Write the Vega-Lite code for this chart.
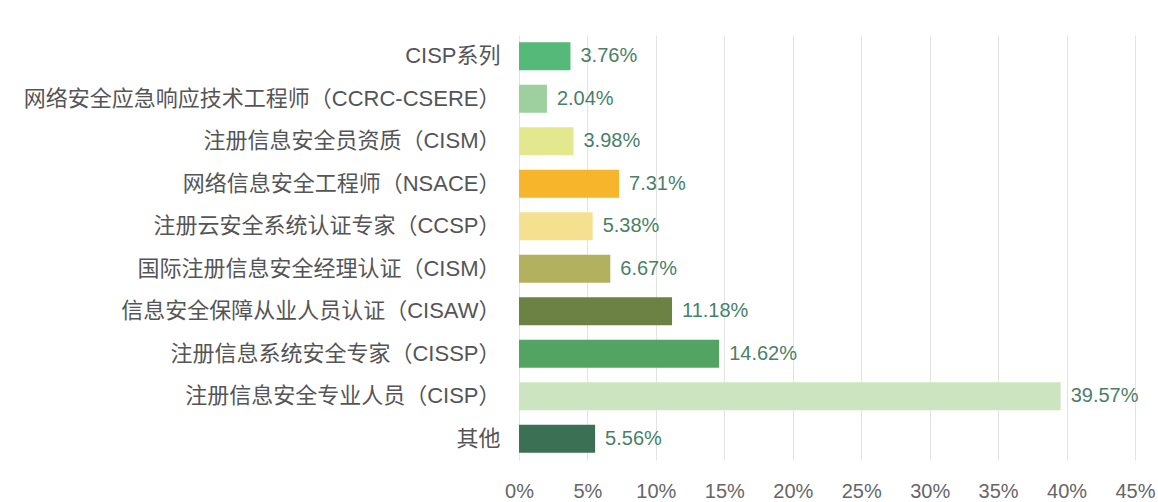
{
  "$schema": "https://vega.github.io/schema/vega-lite/v6.json",
  "width": 616,
  "height": 425,
  "autosize": {"type": "none"},
  "padding": {"left": 519, "top": 35, "right": 23, "bottom": 42},
  "background": "white",
  "config": {
    "font": "Liberation Sans, Noto Sans CJK SC",
    "view": {"stroke": null}
  },
  "data": {
    "values": [
      {"name": "CISP系列", "value": 0.0376},
      {"name": "网络安全应急响应技术工程师（CCRC-CSERE）", "value": 0.0204},
      {"name": "注册信息安全员资质（CISM）", "value": 0.0398},
      {"name": "网络信息安全工程师（NSACE）", "value": 0.0731},
      {"name": "注册云安全系统认证专家（CCSP）", "value": 0.0538},
      {"name": "国际注册信息安全经理认证（CISM）", "value": 0.0667},
      {"name": "信息安全保障从业人员认证（CISAW）", "value": 0.1118},
      {"name": "注册信息系统安全专家（CISSP）", "value": 0.1462},
      {"name": "注册信息安全专业人员（CISP）", "value": 0.3957},
      {"name": "其他", "value": 0.0556}
    ]
  },
  "encoding": {
    "y": {
      "field": "name",
      "type": "nominal",
      "sort": null,
      "scale": {"paddingInner": 0.34, "paddingOuter": 0.17},
      "axis": {
        "title": null,
        "ticks": false,
        "domain": false,
        "labelFontSize": 22,
        "labelColor": "#555555",
        "labelPadding": 19,
        "labelLimit": 600
      }
    },
    "x": {
      "field": "value",
      "type": "quantitative",
      "scale": {"domain": [0, 0.45], "nice": false},
      "axis": {
        "title": null,
        "values": [0, 0.05, 0.1, 0.15, 0.2, 0.25, 0.3, 0.35, 0.4, 0.45],
        "format": ".0%",
        "ticks": false,
        "domain": false,
        "gridColor": "#e3e3e3",
        "labelFontSize": 20,
        "labelColor": "#666666",
        "labelPadding": 21,
        "labelFlush": false
      }
    }
  },
  "layer": [
    {
      "mark": {"type": "bar"},
      "encoding": {
        "color": {
          "field": "name",
          "type": "nominal",
          "legend": null,
          "scale": {
            "domain": [
              "CISP系列",
              "网络安全应急响应技术工程师（CCRC-CSERE）",
              "注册信息安全员资质（CISM）",
              "网络信息安全工程师（NSACE）",
              "注册云安全系统认证专家（CCSP）",
              "国际注册信息安全经理认证（CISM）",
              "信息安全保障从业人员认证（CISAW）",
              "注册信息系统安全专家（CISSP）",
              "注册信息安全专业人员（CISP）",
              "其他"
            ],
            "range": ["#55b97a", "#9dd09e", "#e3e88e", "#f7b52c", "#f5e08f", "#b2b15d", "#6b8244", "#53a463", "#cde4c1", "#3b7055"]
          }
        }
      }
    },
    {
      "mark": {"type": "text", "align": "left", "baseline": "middle", "dx": 10, "fontSize": 20, "color": "#4a7f68"},
      "encoding": {
        "text": {"field": "value", "type": "quantitative", "format": ".2%"}
      }
    }
  ]
}
